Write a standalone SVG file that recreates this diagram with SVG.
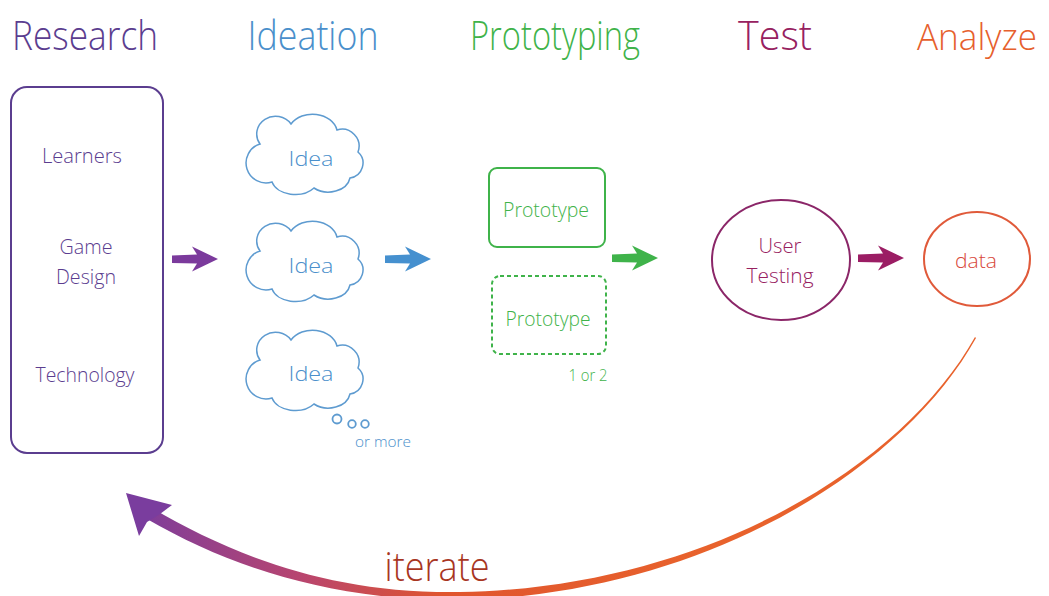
<svg xmlns="http://www.w3.org/2000/svg" width="1049" height="596" viewBox="0 0 1049 596">
<style>
text{font-family:"Open Sans","Liberation Sans",sans-serif;font-weight:300;text-anchor:middle}
.title{font-size:40px}
.lbl{font-size:21px}
.pur{fill:#5b3d8f}.blu{fill:#4a8fcb}.grn{fill:#3fb34a}.mag{fill:#97215f}.org{fill:#e6602d}
.cloud{fill:none;stroke:#5e9bd0;stroke-width:1.5}
</style>
<defs>
<path id="arr" d="M0,-3.5 L25,-4.5 L20,-12.5 L46,0 L20,12.5 L25,4.5 L0,4 Z"/>
<path id="cloudp" d="M-46,-10 A18,17 0 0 1 -15,-30 A25,20 0 0 1 31,-24 A17,17 0 0 1 52,-2 A15,15 0 0 1 44,24 A22,17 0 0 1 8,34 A24,17 0 0 1 -34,28 A18,18 0 0 1 -46,-10 Z"/>
<linearGradient id="itg" gradientUnits="userSpaceOnUse" x1="130" y1="0" x2="700" y2="0">
<stop offset="0" stop-color="#7a3d9e"/>
<stop offset="0.3" stop-color="#b8456f"/>
<stop offset="0.55" stop-color="#e0552e"/>
<stop offset="1" stop-color="#e8622c"/>
</linearGradient>
</defs>

<g id="titles">
<text class="title pur" x="85" y="50" textLength="146" lengthAdjust="spacingAndGlyphs">Research</text>
<text class="title blu" x="313" y="50" textLength="131" lengthAdjust="spacingAndGlyphs">Ideation</text>
<text class="title grn" x="555" y="50" textLength="170" lengthAdjust="spacingAndGlyphs">Prototyping</text>
<text class="title mag" x="775" y="50" textLength="74" lengthAdjust="spacingAndGlyphs">Test</text>
<text class="org" x="977" y="50" font-size="37" textLength="120" lengthAdjust="spacingAndGlyphs">Analyze</text>
</g>

<g id="research">
<rect x="11" y="87" width="152" height="366" rx="16" fill="none" stroke="#5b3d8f" stroke-width="2"/>
<text class="lbl pur" x="82" y="163" textLength="80" lengthAdjust="spacingAndGlyphs">Learners</text>
<text class="lbl pur" x="86" y="254" textLength="53" lengthAdjust="spacingAndGlyphs">Game</text>
<text class="lbl pur" x="86" y="284" textLength="60" lengthAdjust="spacingAndGlyphs">Design</text>
<text class="lbl pur" x="85" y="382" textLength="99" lengthAdjust="spacingAndGlyphs">Technology</text>
</g>

<g id="idea1">
<use href="#cloudp" class="cloud" transform="translate(306,154)"/>
<text class="lbl blu" x="311" y="166" textLength="45" lengthAdjust="spacingAndGlyphs">Idea</text>
</g>
<g id="idea2">
<use href="#cloudp" class="cloud" transform="translate(306,261)"/>
<text class="lbl blu" x="311" y="273" textLength="45" lengthAdjust="spacingAndGlyphs">Idea</text>
</g>
<g id="idea3">
<use href="#cloudp" class="cloud" transform="translate(306,370)"/>
<text class="lbl blu" x="311" y="381" textLength="45" lengthAdjust="spacingAndGlyphs">Idea</text>
<circle cx="337" cy="419" r="4.5" fill="none" stroke="#5e9bd0" stroke-width="1.8"/>
<circle cx="352" cy="424" r="3.8" fill="none" stroke="#5e9bd0" stroke-width="1.8"/>
<circle cx="365" cy="424" r="3.8" fill="none" stroke="#5e9bd0" stroke-width="1.8"/>
<text class="blu" x="383" y="447" font-size="14" textLength="56" lengthAdjust="spacingAndGlyphs">or more</text>
</g>

<g id="proto1">
<rect x="489" y="168" width="116" height="79" rx="8" fill="none" stroke="#3fb34a" stroke-width="2"/>
<text class="lbl grn" x="546" y="217" textLength="86" lengthAdjust="spacingAndGlyphs">Prototype</text>
</g>
<g id="proto2">
<rect x="492" y="276" width="114" height="78" rx="8" fill="none" stroke="#3fb34a" stroke-width="2" stroke-dasharray="4,3"/>
<text class="lbl grn" x="548" y="326" textLength="85" lengthAdjust="spacingAndGlyphs">Prototype</text>
<text class="grn" x="588" y="381" font-size="17" textLength="39" lengthAdjust="spacingAndGlyphs">1 or 2</text>
</g>

<g id="usertesting">
<ellipse cx="781" cy="260" rx="69" ry="60" fill="none" stroke="#8b2668" stroke-width="2"/>
<text class="lbl mag" x="780" y="253" textLength="43" lengthAdjust="spacingAndGlyphs">User</text>
<text class="lbl mag" x="780" y="283" textLength="67" lengthAdjust="spacingAndGlyphs">Testing</text>
</g>

<g id="data">
<ellipse cx="977" cy="259" rx="53" ry="47" fill="none" stroke="#e05a3a" stroke-width="2"/>
<text class="lbl" fill="#d8483a" x="976" y="268" textLength="42" lengthAdjust="spacingAndGlyphs">data</text>
</g>

<g id="connectors">
<use href="#arr" fill="#7b3a9c" transform="translate(172,259)"/>
<use href="#arr" fill="#4590cf" transform="translate(385,259)"/>
<use href="#arr" fill="#3fb34a" transform="translate(612,258)"/>
<use href="#arr" fill="#9b1d64" transform="translate(858,258)"/>
<path d="M975,337 C901,469 701,588 460,592 C330,594 232,555 152,508 L147,519 C228,566 330,601 460,600 C702,595 902,471 976,338 Z" fill="url(#itg)"/>
<path d="M126,493 L172,505 L160,514 L147,522 L139,536 Z" fill="#7a3d9e"/>
<text x="437" y="581" font-size="40" fill="#a8361f" textLength="105" lengthAdjust="spacingAndGlyphs">iterate</text>
</g>
</svg>
